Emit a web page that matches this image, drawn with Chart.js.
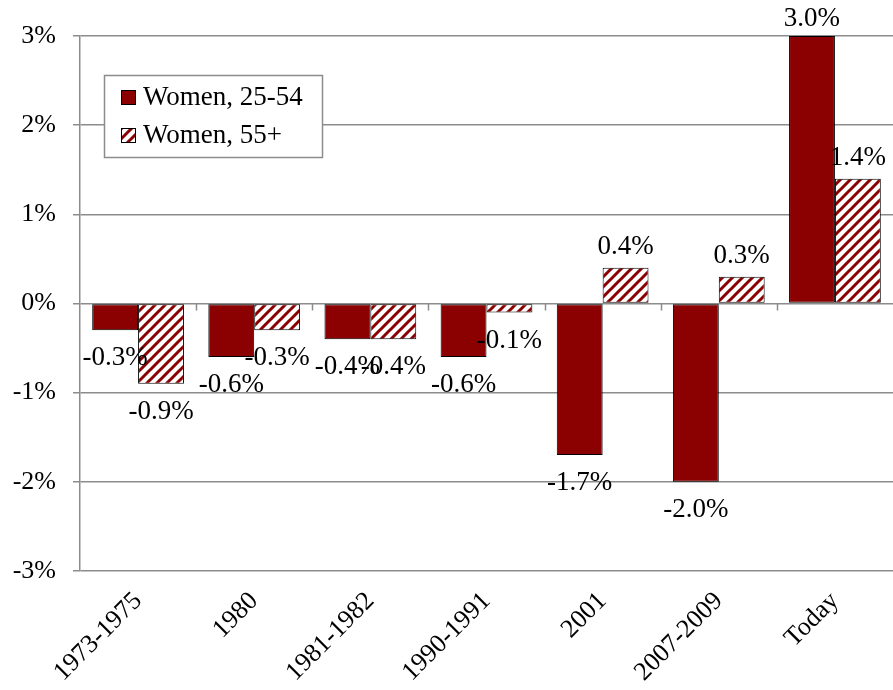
<!DOCTYPE html>
<html>
<head>
<meta charset="utf-8">
<script src="https://cdn.jsdelivr.net/npm/chart.js@4.4.1/dist/chart.umd.min.js"></script>
<style>
html,body{margin:0;padding:0;background:#fff;}
canvas{display:block;}
</style>
</head>
<body>
<canvas id="c" width="893" height="690"></canvas>
<script>
const categories = ['1973-1975','1980','1981-1982','1990-1991','2001','2007-2009','Today'];
const women2554 = [-0.3,-0.6,-0.4,-0.6,-1.7,-2.0,3.0];
const women55plus = [-0.9,-0.3,-0.4,-0.1,0.4,0.3,1.4];
const seriesNames = ['Women, 25-54','Women, 55+'];
const yTicks = [-3,-2,-1,0,1,2,3];

const DARK = '#8b0000';
const GRID = '#8c8c8c';
const FONT = 'Liberation Serif, Times New Roman, serif';

function makeHatch(){
  const s = 10;
  const c = document.createElement('canvas');
  c.width = s; c.height = s;
  const g = c.getContext('2d');
  g.fillStyle = '#fff';
  g.fillRect(0,0,s,s);
  g.strokeStyle = DARK;
  g.lineWidth = 3;
  g.beginPath();
  g.moveTo(-2, s+2); g.lineTo(s+2, -2);
  g.moveTo(-2, 2); g.lineTo(2, -2);
  g.moveTo(s-2, s+2); g.lineTo(s+2, s-2);
  g.stroke();
  return g.createPattern(c, 'repeat');
}
const hatch = makeHatch();

const dataLabels = {
  id:'dataLabels',
  afterDatasetsDraw(chart){
    const ctx = chart.ctx;
    ctx.save();
    ctx.font = '27px ' + FONT;
    ctx.fillStyle = '#000';
    ctx.textAlign = 'center';
    ctx.textBaseline = 'middle';
    chart.data.datasets.forEach((ds, di) => {
      const meta = chart.getDatasetMeta(di);
      meta.data.forEach((bar, i) => {
        const v = ds.data[i];
        const txt = v.toFixed(1) + '%';
        const y = v >= 0 ? Math.max(bar.y - 21, 19) : bar.y + 28;
        ctx.fillText(txt, bar.x, y);
      });
    });
    ctx.restore();
  }
};

const zeroTicks = {
  id:'zeroTicks',
  afterDraw(chart){
    const ctx = chart.ctx;
    const xs = chart.scales.x, ys = chart.scales.y;
    const y0 = ys.getPixelForValue(0);
    const n = categories.length;
    const w = (xs.right - xs.left) / n;
    ctx.save();
    ctx.strokeStyle = GRID;
    ctx.lineWidth = 1.5;
    ctx.beginPath();
    for(let i=1;i<n;i++){
      const x = Math.round(xs.left + i*w) + 0.5;
      ctx.moveTo(x, y0); ctx.lineTo(x, y0+7);
    }
    ctx.stroke();
    ctx.restore();
  }
};

const boxLegend = {
  id:'boxLegend',
  afterDraw(chart){
    const ctx = chart.ctx;
    ctx.save();
    const bx = 104.5, by = 75.5, bw = 218, bh = 82;
    ctx.fillStyle = '#fff';
    ctx.fillRect(bx, by, bw, bh);
    ctx.strokeStyle = GRID;
    ctx.lineWidth = 1.5;
    ctx.strokeRect(bx, by, bw, bh);
    ctx.font = '27px ' + FONT;
    ctx.textBaseline = 'middle';
    ctx.textAlign = 'left';
    chart.data.datasets.forEach((ds, di) => {
      const cy = 97 + di*38;
      ctx.fillStyle = ds.backgroundColor;
      ctx.fillRect(121, cy-7, 15, 15);
      ctx.strokeStyle = '#000';
      ctx.lineWidth = 1;
      ctx.strokeRect(121.5, cy-6.5, 14, 14);
      ctx.fillStyle = '#000';
      ctx.fillText(ds.label, 143, cy+1);
    });
    ctx.restore();
  }
};

new Chart(document.getElementById('c'), {
  type:'bar',
  data:{
    labels: categories,
    datasets:[
      {label: seriesNames[0], data: women2554, backgroundColor: DARK, borderColor:'#000', borderWidth:1, borderSkipped:false},
      {label: seriesNames[1], data: women55plus, backgroundColor: hatch, borderColor:'#000', borderWidth:1, borderSkipped:false}
    ]
  },
  options:{
    responsive:false,
    animation:false,
    devicePixelRatio:1,
    layout:{padding:{top:36,right:0,left:0,bottom:0}},
    categoryPercentage:0.79,
    barPercentage:1.0,
    plugins:{legend:{display:false}, tooltip:{enabled:false}},
    scales:{
      x:{
        grid:{display:false},
        border:{display:false},
        ticks:{
          color:'#000',
          font:{family:FONT, size:26},
          maxRotation:45, minRotation:45,
          autoSkip:false,
          padding:7
        },
        afterFit(s){ s.height = 119; }
      },
      y:{
        min:-3, max:3,
        afterBuildTicks(s){ s.ticks = yTicks.map(v => ({value:v})); },
        grid:{color:GRID, lineWidth:1.5, tickLength:7, drawTicks:true},
        border:{display:true, color:GRID, width:1.5},
        ticks:{
          color:'#000',
          font:{family:FONT, size:26},
          padding:17,
          callback:(v)=> v + '%'
        },
        afterFit(s){ s.width = 80; }
      }
    }
  },
  plugins:[dataLabels, zeroTicks, boxLegend]
});
</script>
</body>
</html>
